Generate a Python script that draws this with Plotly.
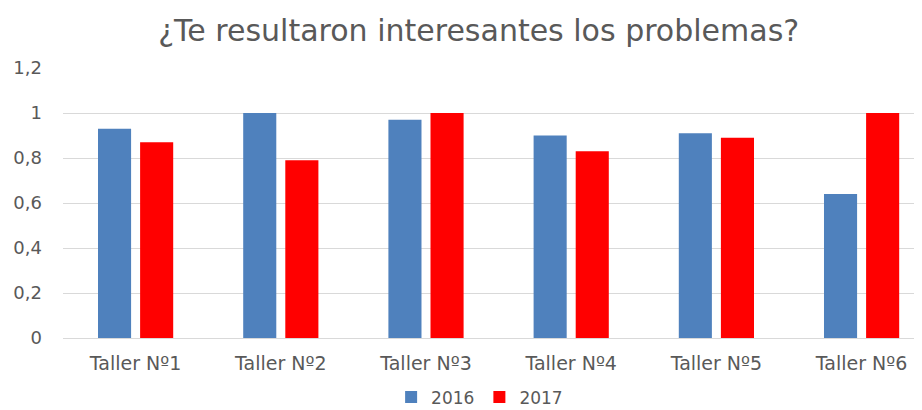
import plotly.graph_objects as go

categories = ["Taller Nº1", "Taller Nº2", "Taller Nº3", "Taller Nº4", "Taller Nº5", "Taller Nº6"]
values_2016 = [0.93, 1.0, 0.97, 0.90, 0.91, 0.64]
values_2017 = [0.87, 0.79, 1.0, 0.83, 0.89, 1.0]
y_ticks = [0, 0.2, 0.4, 0.6, 0.8, 1.0, 1.2]
y_tick_labels = ["0", "0,2", "0,4", "0,6", "0,8", "1", "1,2"]

FONT = "DejaVu Sans"
GREY = "#595959"

fig = go.Figure()
fig.add_trace(go.Bar(name="2016", x=categories, y=values_2016,
                     marker=dict(color="#4F81BD", line=dict(width=0))))
fig.add_trace(go.Bar(name="2017", x=categories, y=values_2017,
                     marker=dict(color="#FF0000", line=dict(width=0))))

fig.update_layout(
    width=914, height=402,
    paper_bgcolor="white", plot_bgcolor="white",
    margin=dict(l=55, r=0, t=60, b=72, autoexpand=False),
    barmode="group", bargap=0.42, bargroupgap=0.214,
    title=dict(text="¿Te resultaron interesantes los problemas?",
               font=dict(family=FONT, size=30, color=GREY),
               x=0.515, xanchor="center", y=0.945, yanchor="middle"),
    legend=dict(orientation="h", x=0.485, xanchor="center", y=-0.22, yanchor="middle",
                font=dict(family=FONT, size=17, color=GREY),
                itemwidth=30, traceorder="normal"),
    font=dict(family=FONT, color=GREY),
)
fig.update_xaxes(range=[-0.5, 5.416], showgrid=False, showline=False,
                 tickfont=dict(family=FONT, size=19, color=GREY), ticks="",
                 ticklabelstandoff=12)
fig.update_yaxes(range=[0, 1.2], tickvals=y_ticks, ticktext=y_tick_labels,
                 showgrid=True, gridcolor="#D9D9D9", gridwidth=1,
                 zeroline=True, zerolinecolor="#D9D9D9", zerolinewidth=1,
                 tickfont=dict(family=FONT, size=18, color=GREY), ticks="",
                 ticklabelstandoff=20)

fig.write_html("out.html")
